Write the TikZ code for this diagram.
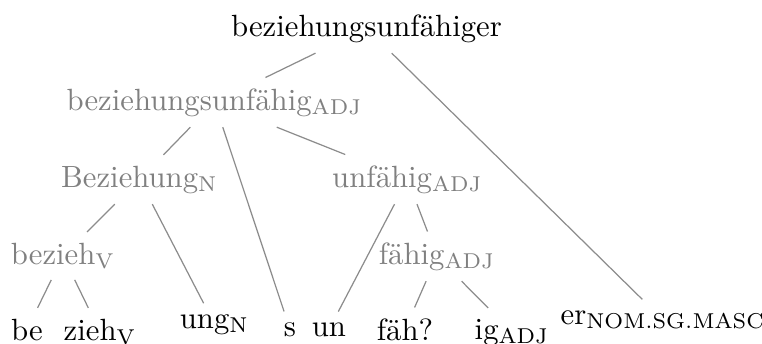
\documentclass[tikz,border=0pt]{standalone}
\usepackage{fontspec}
\usepackage{xcolor}
\usepackage{tikz}

\tikzset{
	stem/.style={text=black!50},
	leaf/.style={text=black},
	branch/.style={draw=black!45, line width=0.4pt}
}

\begin{document}
\begin{tikzpicture}[x=0.3257pt, y=-0.3257pt, every node/.style={anchor=base}]
			\useasboundingbox (0,0) rectangle (762,343);

			\begin{scope}
				\node[leaf] (word) at (366.5,36) {beziehungsunfähiger};
				\node[stem] (adjA) at (214.5,110) {beziehungsunfähig$_{\mathrm{ADJ}}$};
				\node[stem] (nounB) at (139.5,187) {Beziehung$_{\mathrm{N}}$};
				\node[stem] (adjU) at (407.5,187) {unfähig$_{\mathrm{ADJ}}$};
				\node[stem] (verbZ) at (63,264) {bezieh$_{\mathrm{V}}$};
				\node[stem] (adjF) at (437,264) {fähig$_{\mathrm{ADJ}}$};
			\end{scope}

			\begin{scope}
				\node[leaf] (be) at (27,340) {be};
				\node[leaf] (zieh) at (100,340) {zieh$_{\mathrm{V}}$};
				\node[leaf] (ung) at (214.5,328) {ung$_{\mathrm{N}}$};
				\node[leaf] (s) at (290,336) {s};
				\node[leaf] (un) at (329,336) {un};
				\node[leaf] (faeh) at (405,340) {fäh?};
				\node[leaf] (ig) at (512,339) {ig$_{\mathrm{ADJ}}$};
				\node[leaf] (er) at (663,324) {er$_{\mathrm{NOM.SG.MASC}}$};
			\end{scope}

			\begin{scope}[branch]
				\draw (word) -- (adjA);
				\draw (word) -- (er);
				\draw (adjA) -- (nounB);
				\draw (adjA) -- (s);
				\draw (adjA) -- (adjU);
				\draw (nounB) -- (verbZ);
				\draw (nounB) -- (ung);
				\draw (verbZ) -- (be);
				\draw (verbZ) -- (zieh);
				\draw (adjU) -- (un);
				\draw (adjU) -- (adjF);
				\draw (adjF) -- (faeh);
				\draw (adjF) -- (ig);
			\end{scope}
		\end{tikzpicture}
\end{document}
